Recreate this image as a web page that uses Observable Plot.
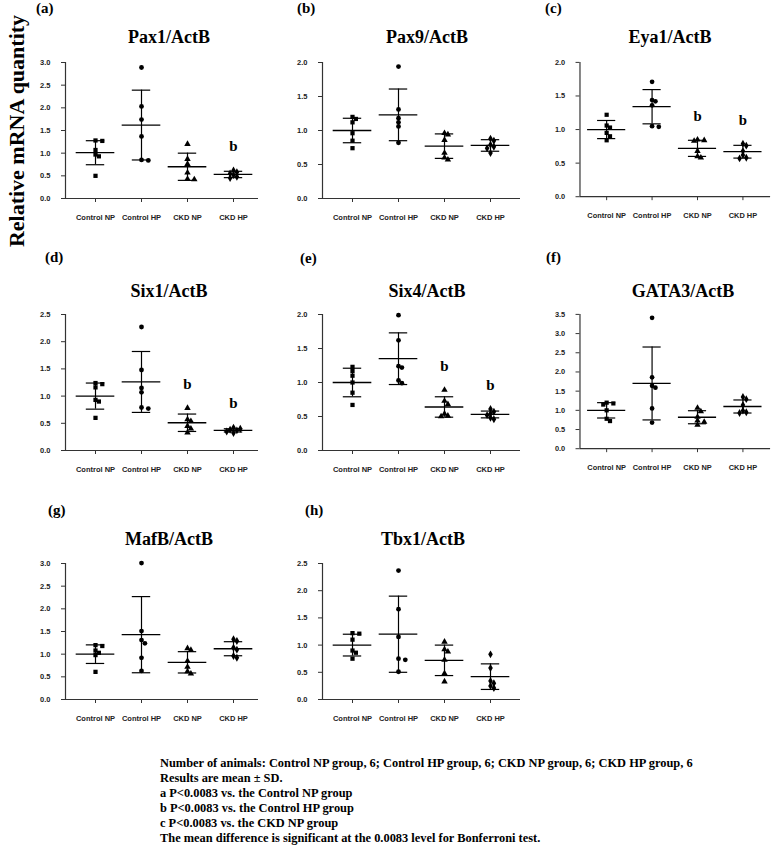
<!DOCTYPE html>
<html>
<head>
<meta charset="utf-8">
<script src="https://cdn.jsdelivr.net/npm/d3@7"></script>
<script src="https://cdn.jsdelivr.net/npm/@observablehq/plot@0.6"></script>
<style>
  body { margin: 0; background: #fff; }
  #wrap { position: relative; width: 778px; height: 846px; overflow: hidden; background: #fff; }
  .panel { position: absolute; }
  #overlay { position: absolute; left: 0; top: 0; pointer-events: none; }
</style>
</head>
<body>
<div id="wrap"></div>
<script>
// ---------- data ----------
const groups = ["Control NP", "Control HP", "CKD NP", "CKD HP"];
const letters = ["(a)", "(b)", "(c)", "(d)", "(e)", "(f)", "(g)", "(h)"];
const titles = ["Pax1/ActB", "Pax9/ActB", "Eya1/ActB", "Six1/ActB", "Six4/ActB", "GATA3/ActB", "MafB/ActB", "Tbx1/ActB"];
const yMax = [3.0, 2.0, 2.0, 2.5, 2.0, 3.5, 3.0, 2.5];

const pax1 = [[1.27, 1.28, 1.07, 0.97, 0.93, 0.50], [2.89, 2.03, 1.74, 1.37, 0.85, 0.84], [1.20, 0.87, 0.76, 0.57, 0.43, 0.42], [0.62, 0.58, 0.55, 0.52, 0.48, 0.45]];
const pax1Mean = [1.01, 1.62, 0.70, 0.53];
const pax1SD = [0.265, 0.77, 0.30, 0.07];
const pax1Sig = ["", "", "", "b"];

const pax9 = [[1.20, 1.17, 1.12, 0.96, 0.85, 0.74], [1.94, 1.31, 1.18, 1.12, 1.06, 0.82], [0.96, 0.94, 0.86, 0.67, 0.60, 0.57], [0.88, 0.85, 0.79, 0.76, 0.74, 0.67]];
const pax9Mean = [1.00, 1.23, 0.77, 0.78];
const pax9SD = [0.18, 0.38, 0.18, 0.085];
const pax9Sig = ["", "", "", ""];

const eya1 = [[1.22, 1.06, 1.03, 0.95, 0.90, 0.84], [1.71, 1.44, 1.42, 1.36, 1.05, 1.04], [0.85, 0.84, 0.83, 0.68, 0.60, 0.58], [0.79, 0.76, 0.68, 0.62, 0.58, 0.57]];
const eya1Mean = [1.00, 1.34, 0.72, 0.67];
const eya1SD = [0.135, 0.255, 0.12, 0.095];
const eya1Sig = ["", "", "b", "b"];

const six1 = [[1.24, 1.22, 1.16, 0.93, 0.90, 0.60], [2.27, 1.48, 1.15, 1.07, 0.79, 0.77], [0.78, 0.57, 0.54, 0.45, 0.40, 0.33], [0.42, 0.40, 0.38, 0.37, 0.35, 0.32]];
const six1Mean = [1.00, 1.26, 0.51, 0.37];
const six1SD = [0.24, 0.56, 0.16, 0.03];
const six1Sig = ["", "", "b", "b"];

const six4 = [[1.23, 1.17, 1.10, 1.00, 0.85, 0.67], [1.99, 1.62, 1.24, 1.22, 1.03, 0.99], [0.89, 0.73, 0.68, 0.54, 0.51, 0.50], [0.61, 0.57, 0.54, 0.52, 0.48, 0.46]];
const six4Mean = [1.00, 1.35, 0.64, 0.53];
const six4SD = [0.21, 0.38, 0.15, 0.05];
const six4Sig = ["", "", "b", "b"];

const gata3 = [[1.20, 1.18, 1.15, 1.00, 0.78, 0.72], [3.41, 1.86, 1.64, 1.59, 1.05, 0.68], [1.06, 0.97, 0.83, 0.73, 0.70, 0.62], [1.35, 1.29, 1.14, 0.99, 0.95, 0.93]];
const gata3Mean = [1.00, 1.70, 0.82, 1.10];
const gata3SD = [0.20, 0.95, 0.17, 0.17];
const gata3Sig = ["", "", "", ""];

const mafb = [[1.20, 1.18, 1.08, 1.03, 0.98, 0.61], [3.01, 1.51, 1.31, 1.24, 0.92, 0.63], [1.13, 1.09, 0.85, 0.72, 0.62, 0.57], [1.33, 1.29, 1.14, 1.10, 0.96, 0.92]];
const mafbMean = [1.00, 1.43, 0.82, 1.12];
const mafbSD = [0.205, 0.84, 0.235, 0.155];
const mafbSig = ["", "", "", ""];

const tbx1 = [[1.22, 1.21, 1.10, 0.90, 0.86, 0.75], [2.37, 1.66, 1.15, 0.75, 0.73, 0.51], [1.06, 0.92, 0.88, 0.73, 0.48, 0.33], [0.83, 0.58, 0.34, 0.30, 0.25, 0.21]];
const tbx1Mean = [1.00, 1.20, 0.72, 0.42];
const tbx1SD = [0.20, 0.70, 0.28, 0.235];
const tbx1Sig = ["", "", "", ""];

const yLabel = "Relative mRNA quantity";
const captionLines = [
  "Number of animals: Control NP group, 6; Control HP group, 6; CKD NP group, 6; CKD HP group, 6",
  "Results are mean \u00b1 SD.",
  "a P<0.0083 vs. the Control NP group",
  "b P<0.0083 vs. the Control HP group",
  "c P<0.0083 vs. the CKD NP group",
  "The mean difference is significant at the 0.0083 level for Bonferroni test."
];

const panelData = [
  [pax1, pax1Mean, pax1SD, pax1Sig], [pax9, pax9Mean, pax9SD, pax9Sig], [eya1, eya1Mean, eya1SD, eya1Sig],
  [six1, six1Mean, six1SD, six1Sig], [six4, six4Mean, six4SD, six4Sig], [gata3, gata3Mean, gata3SD, gata3Sig],
  [mafb, mafbMean, mafbSD, mafbSig], [tbx1, tbx1Mean, tbx1SD, tbx1Sig]
];

// ---------- layout ----------
const cols = [{ax: 65, o: 30, L: 193}, {ax: 322, o: 30, L: 198}, {ax: 580, o: 27, L: 193}];
const rows = [62, 314, 563];
const H = 136, STEP = 46;
const mL = 42, mT = 8, mR = 8, mB = 32;

const letterPos = [[36, 13], [297, 13], [545, 13], [45, 262], [300, 263], [546, 262], [48, 515], [305, 515]];
const titlePos = [[169, 43], [427, 43], [670, 43], [169, 297], [427, 297], [683, 297], [169, 545], [423, 545]];

const wrap = document.getElementById("wrap");

function jitter(vals, gi, pxPerY) {
  const placed = [];
  const out = [];
  const sorted = vals.slice().sort((a, b) => b - a);
  for (const v of sorted) {
    const ypx = v * pxPerY;
    let off = 0;
    for (const cand of [0, 1, -1, 2, -2, 3, -3]) {
      const xpx = cand * 3.4;
      if (placed.every(q => Math.hypot(q.x - xpx, q.y - ypx) >= 3.6)) { off = xpx; break; }
    }
    placed.push({x: off, y: ypx});
    out.push({g: groups[gi], v, x: gi + off / STEP});
  }
  return out;
}

panelData.forEach(([vals, means, sds, sig], pi) => {
  const c = cols[pi % 3];
  const top = rows[Math.floor(pi / 3)];
  const ymax = yMax[pi];
  const x0 = -c.o / STEP, x1 = (c.L - c.o) / STEP;
  const pts = vals.flatMap((v, gi) => jitter(v, gi, H / ymax));
  const stats = groups.map((g, i) => ({
    i, mean: means[i], sd: sds[i], sig: sig[i],
    top: Math.max(means[i] + sds[i], d3.max(vals[i]))
  }));
  const ticks = d3.range(0, ymax + 1e-9, 0.5);
  const plot = Plot.plot({
    width: mL + c.L + mR,
    height: mT + H + mB,
    marginLeft: mL, marginTop: mT, marginRight: mR, marginBottom: mB,
    style: {background: "transparent", fontFamily: "'Liberation Sans', Arial, sans-serif", fontSize: "7.5px", fontWeight: "bold", color: "#222", overflow: "visible"},
    x: {domain: [x0, x1]},
    y: {domain: [0, ymax]},
    symbol: {domain: groups, range: ["square", "circle", "triangle", "diamond"]},
    marks: [
      Plot.axisY({ticks, tickFormat: d => d.toFixed(1), tickSize: 4, tickPadding: 11, label: null, stroke: "#333", fill: "#222", fontSize: 7.5, fontWeight: "bold"}),
      Plot.axisX({ticks: [0, 1, 2, 3], tickFormat: i => groups[i], tickSize: 4, tickPadding: 12, label: null, stroke: "#333", fill: "#222", fontSize: 7.5, fontWeight: "bold"}),
      Plot.ruleX([x0], {y1: 0, y2: ymax, stroke: "#333", strokeWidth: 1.2}),
      Plot.ruleY([0], {stroke: "#333", strokeWidth: 1.2}),
      Plot.ruleX(stats, {x: "i", y1: d => d.mean - d.sd, y2: d => d.mean + d.sd, stroke: "#000", strokeWidth: 1.2}),
      Plot.ruleY(stats, {y: d => d.mean - d.sd, x1: d => d.i - 0.2, x2: d => d.i + 0.2, stroke: "#000", strokeWidth: 1.2}),
      Plot.ruleY(stats, {y: d => d.mean + d.sd, x1: d => d.i - 0.2, x2: d => d.i + 0.2, stroke: "#000", strokeWidth: 1.2}),
      Plot.ruleY(stats, {y: "mean", x1: d => d.i - 0.42, x2: d => d.i + 0.42, stroke: "#000", strokeWidth: 1.3}),
      Plot.dot(pts, {x: "x", y: "v", symbol: "g", r: 2.4, fill: "#000", stroke: "none"}),
      Plot.text(stats.filter(d => d.sig), {x: "i", y: "top", text: "sig", dy: -24, fontFamily: "'Liberation Serif', 'Times New Roman', serif", fontSize: 15, fontWeight: "bold", fill: "#000"})
    ]
  });
  const div = document.createElement("div");
  div.className = "panel";
  div.style.left = (c.ax - mL) + "px";
  div.style.top = (top - mT) + "px";
  div.appendChild(plot);
  wrap.appendChild(div);
});

// ---------- text overlay ----------
const svg = d3.select(wrap).append("svg").attr("id", "overlay")
  .attr("width", 778).attr("height", 846)
  .style("font-family", "'Liberation Serif', 'Times New Roman', serif")
  .style("font-weight", "bold");

svg.append("text")
  .attr("transform", "translate(16,131) rotate(-90)")
  .attr("text-anchor", "middle").attr("dominant-baseline", "central")
  .attr("font-size", 22).text(yLabel);

letters.forEach((t, i) => {
  svg.append("text").attr("x", letterPos[i][0]).attr("y", letterPos[i][1])
    .attr("font-size", 15).text(t);
});
titles.forEach((t, i) => {
  svg.append("text").attr("x", titlePos[i][0]).attr("y", titlePos[i][1])
    .attr("text-anchor", "middle").attr("font-size", 18).text(t);
});
captionLines.forEach((t, i) => {
  svg.append("text").attr("x", 160).attr("y", 767 + i * 15)
    .attr("font-size", 12.4).text(t);
});
</script>
</body>
</html>
